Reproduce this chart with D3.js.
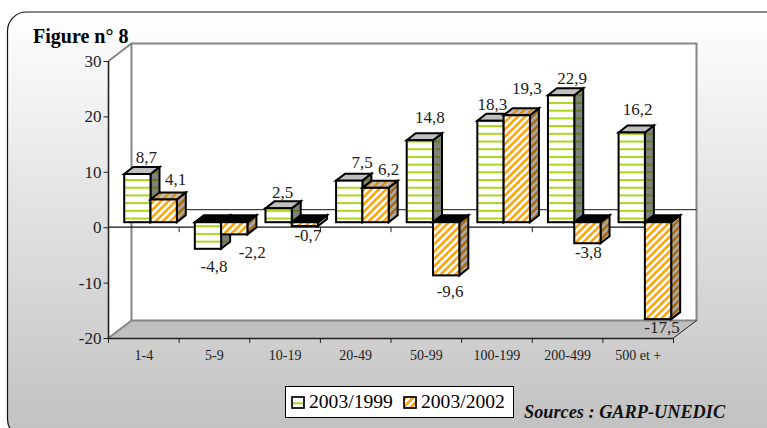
<!DOCTYPE html>
<html>
<head>
<meta charset="utf-8">
<script src="https://cdn.jsdelivr.net/npm/d3@7"></script>
<style>
html, body { margin: 0; padding: 0; background: #fff; overflow: hidden; }
svg { display: block; font-family: "Liberation Serif", serif; fill: #222; }
</style>
</head>
<body>
<svg id="chart" width="767" height="428"></svg>
<script>
const categories = ['1-4', '5-9', '10-19', '20-49', '50-99', '100-199', '200-499', '500 et +'];
const seriesNames = ['2003/1999', '2003/2002'];
const values1999 = [8.7, -4.8, 2.5, 7.5, 14.8, 18.3, 22.9, 16.2];
const values2002 = [4.1, -2.2, -0.7, 6.2, -9.6, 19.3, -3.8, -17.5];
const yTicks = [-20, -10, 0, 10, 20, 30];

// the labels were moved by hand in the original, so they get their own nudges
const nudge1999 = [[9, -4], [6, 23], [4, -3], [13, -6], [10, -10], [2, -4], [11, -4], [6, -10]];
const nudge2002 = [[12, -7], [18, 24], [3, 15], [13, -6], [4, 22], [10, -14], [1, 15], [4, 14]];

const LEFT = 108.5, RIGHT = 673.5, TOP = 61, BOTTOM = 338;
const WALL_DX = 23, WALL_DY = -17.5;
const GAP_DX = 6.7, GAP_DY = -5;     // front of floor to front of bars
const DEPTH_DX = 9, DEPTH_DY = -7;   // depth of one bar

const svg = d3.select('#chart');
const defs = svg.append('defs');

let grad = defs.append('linearGradient').attr('id', 'panelGrad')
    .attr('gradientUnits', 'userSpaceOnUse')
    .attr('x1', 0).attr('y1', 12).attr('x2', 0).attr('y2', 428);
grad.append('stop').attr('offset', 0).attr('stop-color', '#ffffff');
grad.append('stop').attr('offset', 1).attr('stop-color', '#c2c2c2');

function hStripes(id, bg, fg) {
    let p = defs.append('pattern').attr('id', id)
        .attr('patternUnits', 'userSpaceOnUse')
        .attr('width', 8).attr('height', 7.7);
    p.append('rect').attr('width', 8).attr('height', 7.7).attr('fill', bg);
    p.append('rect').attr('y', 2).attr('width', 8).attr('height', 1.9).attr('fill', fg);
}
function dStripes(id, bg, fg) {
    let p = defs.append('pattern').attr('id', id)
        .attr('patternUnits', 'userSpaceOnUse')
        .attr('width', 5.2).attr('height', 5.2)
        .attr('patternTransform', 'rotate(45)');
    p.append('rect').attr('width', 5.2).attr('height', 5.2).attr('fill', bg);
    p.append('rect').attr('width', 2.6).attr('height', 5.2).attr('fill', fg);
}
hStripes('greenFront', '#ffffff', '#a6d60f');
hStripes('greenSide', '#808080', '#5f7f10');
dStripes('orangeFront', '#ffffff', '#ffa510');
dStripes('orangeSide', '#a9a9a9', '#a86c10');
dStripes('orangeTop', '#c0c0c0', '#d8922a');

// panel, its right side runs off the picture
svg.append('rect')
    .attr('x', 7.5).attr('y', 12).attr('width', 780).attr('height', 426)
    .attr('rx', 19).attr('ry', 19)
    .attr('fill', 'url(#panelGrad)')
    .attr('stroke', '#111').attr('stroke-width', 1.2);

let xScale = d3.scaleBand().domain(categories).range([LEFT, RIGHT]);
let yScale = d3.scaleLinear().domain([-20, 30]).range([BOTTOM, TOP]);
let seriesScale = d3.scaleBand().domain(seriesNames).range([9, 61.6]);

// walls
let poly = (pts) => pts.map(p => p.join(',')).join(' ');
svg.append('polygon')
    .attr('points', poly([[LEFT, TOP], [LEFT + WALL_DX, TOP + WALL_DY], [RIGHT + WALL_DX, TOP + WALL_DY],
        [RIGHT + WALL_DX, BOTTOM + WALL_DY], [LEFT + WALL_DX, BOTTOM + WALL_DY], [LEFT, BOTTOM]]))
    .attr('fill', '#fff');
svg.append('polygon')
    .attr('points', poly([[LEFT, BOTTOM], [LEFT + WALL_DX, BOTTOM + WALL_DY], [RIGHT + WALL_DX, BOTTOM + WALL_DY], [RIGHT, BOTTOM]]))
    .attr('fill', '#c0c0c0');
svg.append('path')
    .attr('d', `M${LEFT},${TOP}L${LEFT + WALL_DX},${TOP + WALL_DY}H${RIGHT + WALL_DX}V${BOTTOM + WALL_DY}H${LEFT + WALL_DX}V${TOP + WALL_DY}M${LEFT + WALL_DX},${BOTTOM + WALL_DY}L${LEFT},${BOTTOM}`)
    .attr('fill', 'none').attr('stroke', '#868686').attr('stroke-width', 2);
svg.append('line')
    .attr('x1', RIGHT).attr('y1', BOTTOM).attr('x2', RIGHT + WALL_DX).attr('y2', BOTTOM + WALL_DY)
    .attr('stroke', '#222').attr('stroke-width', 1);

// zero lines, back wall then front
svg.append('line')
    .attr('x1', LEFT + WALL_DX).attr('x2', RIGHT + WALL_DX)
    .attr('y1', yScale(0) + WALL_DY).attr('y2', yScale(0) + WALL_DY)
    .attr('stroke', '#111').attr('stroke-width', 1);

let xAxis = d3.axisBottom(xScale).tickSize(0).tickPadding(12);
let bottomAxis = svg.append('g').attr('transform', `translate(0,${BOTTOM})`).call(xAxis);
bottomAxis.select('.domain').attr('stroke', '#222').attr('stroke-width', 1.6);
bottomAxis.selectAll('text').attr('font-size', 14).attr('font-family', '"Liberation Serif", serif').attr('fill', '#222');

let zeroAxis = svg.append('g').attr('transform', `translate(0,${yScale(0)})`);
zeroAxis.append('line').attr('x1', LEFT).attr('x2', RIGHT).attr('stroke', '#111').attr('stroke-width', 1.2);

let tickXs = categories.map(c => xScale(c)).concat([RIGHT]);
[bottomAxis, zeroAxis].forEach(g => {
    g.selectAll('.cat-tick').data(tickXs).join('line')
        .attr('class', 'cat-tick')
        .attr('x1', d => d).attr('x2', d => d)
        .attr('y1', 0).attr('y2', 5)
        .attr('stroke', '#222').attr('stroke-width', 1);
});

let yAxis = d3.axisLeft(yScale).tickValues(yTicks).tickSize(5).tickPadding(2).tickFormat(d => String(d));
let leftAxis = svg.append('g').attr('transform', `translate(${LEFT},0)`).call(yAxis);
leftAxis.select('.domain').attr('d', `M0,${TOP}V${BOTTOM}`).attr('stroke', '#222').attr('stroke-width', 1.6);
leftAxis.selectAll('.tick line').attr('stroke', '#222');
leftAxis.selectAll('text').attr('font-size', 17).attr('font-family', '"Liberation Serif", serif').attr('fill', '#222');

function drawBars(name, values, front, side, top, negTop) {
    let y0 = yScale(0) + GAP_DY;
    let g = svg.append('g').attr('class', 'series');
    let bw = seriesScale.bandwidth();
    values.forEach((v, i) => {
        let x = xScale(categories[i]) + seriesScale(name) + GAP_DX;
        let yv = yScale(v) + GAP_DY;
        let yTop = Math.min(y0, yv), yBot = Math.max(y0, yv);
        let shape = g.append('g')
            .attr('stroke', '#000').attr('stroke-width', 2).attr('stroke-linejoin', 'miter');
        shape.append('polygon')
            .attr('points', poly([[x + bw, yTop], [x + bw + DEPTH_DX, yTop + DEPTH_DY], [x + bw + DEPTH_DX, yBot + DEPTH_DY], [x + bw, yBot]]))
            .attr('fill', `url(#${side})`);
        shape.append('polygon')
            .attr('points', poly([[x, yTop], [x + DEPTH_DX, yTop + DEPTH_DY], [x + bw + DEPTH_DX, yTop + DEPTH_DY], [x + bw, yTop]]))
            .attr('fill', v < 0 ? negTop : top);
        shape.append('rect')
            .attr('x', x).attr('y', yTop).attr('width', bw).attr('height', yBot - yTop)
            .attr('fill', `url(#${front})`);
    });
}
drawBars(seriesNames[0], values1999, 'greenFront', 'greenSide', '#c0c0c0', '#000');
drawBars(seriesNames[1], values2002, 'orangeFront', 'orangeSide', 'url(#orangeTop)', '#000');

function drawLabels(name, values, nudges) {
    let fmt = d => String(d).replace('.', ',');
    svg.append('g').selectAll('text').data(values).join('text')
        .attr('x', (d, i) => xScale(categories[i]) + seriesScale(name) + GAP_DX + seriesScale.bandwidth() / 2 + nudges[i][0])
        .attr('y', (d, i) => yScale(d) + GAP_DY + (d > 0 ? DEPTH_DY : 0) + nudges[i][1])
        .attr('text-anchor', 'middle')
        .attr('font-size', 17)
        .attr('fill', '#222')
        .text(fmt);
}
drawLabels(seriesNames[0], values1999, nudge1999);
drawLabels(seriesNames[1], values2002, nudge2002);

// title and source
svg.append('text').attr('x', 33).attr('y', 43)
    .attr('font-size', 20).attr('font-weight', 'bold').attr('fill', '#000').text('Figure n° 8');
svg.append('text').attr('x', 524).attr('y', 418)
    .attr('font-size', 18.3).attr('font-weight', 'bold').attr('font-style', 'italic')
    .attr('fill', '#111').text('Sources : GARP-UNEDIC');

// legend
let legend = svg.append('g');
legend.append('rect').attr('x', 285.5).attr('y', 386.5).attr('width', 228).attr('height', 31)
    .attr('fill', '#fff').attr('stroke', '#000').attr('stroke-width', 1);
[['greenFront', 292], ['orangeFront', 404]].forEach(([fill, x], i) => {
    legend.append('rect').attr('x', x).attr('y', 397).attr('width', 12).attr('height', 11)
        .attr('fill', `url(#${fill})`).attr('stroke', '#000').attr('stroke-width', 1.7);
    legend.append('text').attr('x', x + 17).attr('y', 408)
        .attr('font-size', 19.6).attr('fill', '#000').text(seriesNames[i]);
});
</script>
</body>
</html>
